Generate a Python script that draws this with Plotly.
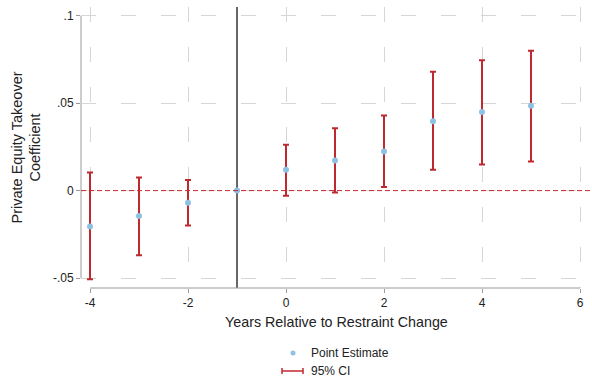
import plotly.graph_objects as go

# ---- data ----
years = [-4, -3, -2, -1, 0, 1, 2, 3, 4, 5]
point_estimate = [-0.0206, -0.0145, -0.0069, 0.0, 0.0119, 0.0172, 0.0223, 0.0397, 0.0449, 0.0485]
ci_lower = [-0.0507, -0.0370, -0.0200, None, -0.0029, -0.0011, 0.0021, 0.0119, 0.0149, 0.0166]
ci_upper = [0.0103, 0.0075, 0.0061, None, 0.0262, 0.0357, 0.0430, 0.0680, 0.0745, 0.0800]

x_ticks = [-4, -2, 0, 2, 4, 6]
x_ticklabels = ["-4", "-2", "0", "2", "4", "6"]
y_ticks = [-0.05, 0, 0.05, 0.1]
y_ticklabels = ["-.05", "0", ".05", ".1"]

RED = "#c0282f"
BLUE = "#8ec1e4"
GRID = "#d6d6d6"
AXIS = "#9a9a9a"
FONT = "Liberation Sans, Arial, sans-serif"
GRID_DASH = "15px,25px"

err_plus = [None if u is None else u - p for u, p in zip(ci_upper, point_estimate)]
err_minus = [None if l is None else p - l for l, p in zip(ci_lower, point_estimate)]

fig = go.Figure()
fig.add_trace(go.Scatter(
    x=years, y=point_estimate, mode="markers",
    marker=dict(color=BLUE, size=6),
    error_y=dict(type="data", symmetric=False, array=err_plus, arrayminus=err_minus,
                 color=RED, thickness=2, width=3),
    showlegend=False,
))

W, H = 592, 381
L, R, T, B = 81, 1, 7, 93
pw, ph = W - L - R, H - T - B


def px_x(px):
    return (px - L) / pw


def px_y(py):
    return (H - B - py) / ph


shapes = [
    # reference lines
    dict(type="line", xref="paper", yref="y", x0=0, x1=1, y0=0, y1=0, layer="above",
         line=dict(color=RED, width=1, dash="5px,3px")),
    dict(type="line", xref="x", yref="paper", x0=-1, x1=-1, y0=0, y1=1, layer="below",
         line=dict(color="black", width=1.2)),
    # axis lines spanning the tick range
    dict(type="line", xref="paper", yref="y", x0=0, x1=0, y0=-0.05, y1=0.1, layer="below",
         line=dict(color=AXIS, width=1)),
    dict(type="line", xref="x", yref="paper", x0=-4, x1=6, y0=0, y1=0, layer="below",
         line=dict(color=AXIS, width=1)),
    # legend symbols
    dict(type="circle", xref="paper", yref="paper", xsizemode="pixel", ysizemode="pixel",
         xanchor=px_x(293), yanchor=px_y(353), x0=-2.5, x1=2.5, y0=-2.5, y1=2.5,
         fillcolor=BLUE, line=dict(width=0)),
    dict(type="line", xref="paper", yref="paper", x0=px_x(282), x1=px_x(303),
         y0=px_y(371), y1=px_y(371), line=dict(color=RED, width=1.5)),
    dict(type="line", xref="paper", yref="paper", x0=px_x(282), x1=px_x(282),
         y0=px_y(374), y1=px_y(368), line=dict(color=RED, width=1.5)),
    dict(type="line", xref="paper", yref="paper", x0=px_x(303), x1=px_x(303),
         y0=px_y(374), y1=px_y(368), line=dict(color=RED, width=1.5)),
]

annotations = [
    dict(text="Private Equity Takeover<br>Coefficient", xref="paper", yref="paper",
         x=px_x(26), y=0.5, textangle=-90, showarrow=False, xanchor="center", yanchor="middle",
         font=dict(family=FONT, size=14.5, color="#222")),
    dict(text="Years Relative to Restraint Change", xref="paper", yref="paper",
         x=0.5, y=px_y(322), showarrow=False, xanchor="center", yanchor="middle",
         font=dict(family=FONT, size=14.3, color="#222")),
    dict(text="Point Estimate", xref="paper", yref="paper", x=px_x(309), y=px_y(353),
         showarrow=False, xanchor="left", yanchor="middle",
         font=dict(family=FONT, size=12, color="#222")),
    dict(text="95% CI", xref="paper", yref="paper", x=px_x(309), y=px_y(371),
         showarrow=False, xanchor="left", yanchor="middle",
         font=dict(family=FONT, size=12, color="#222")),
]

fig.update_layout(
    width=W, height=H,
    margin=dict(l=L, r=R, t=T, b=B),
    paper_bgcolor="white", plot_bgcolor="white",
    font=dict(family=FONT, size=12, color="#222"),
    shapes=shapes, annotations=annotations,
    showlegend=False,
)
fig.update_xaxes(
    range=[-4 - 9 / 49, -4 + 501 / 49],
    tickvals=x_ticks, ticktext=x_ticklabels,
    showgrid=True, gridcolor=GRID, gridwidth=1, griddash=GRID_DASH,
    zeroline=False, showline=False,
    ticks="outside", ticklen=4, tickcolor=AXIS, tickfont=dict(size=12, color="#222"),
)
fig.update_yaxes(
    range=[-0.0557, 0.105],
    tickvals=y_ticks, ticktext=y_ticklabels,
    showgrid=True, gridcolor=GRID, gridwidth=1, griddash=GRID_DASH,
    zeroline=False, showline=False,
    ticks="outside", ticklen=4, tickcolor=AXIS, tickfont=dict(size=12, color="#222"),
)

fig.write_html(
    "out.html",
    config={"displayModeBar": False},
    post_script="document.body.style.margin='0';document.body.style.padding='0';",
)
